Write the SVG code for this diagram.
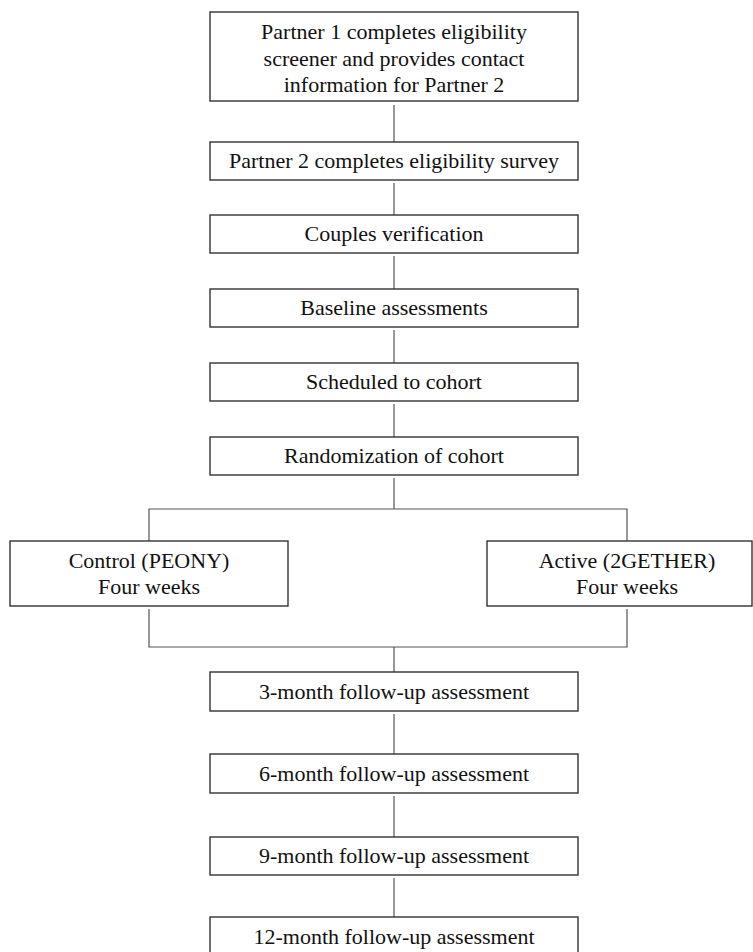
<svg xmlns="http://www.w3.org/2000/svg" width="753" height="952" viewBox="0 0 753 952">
<style>
.box{fill:#fff;stroke:#333;stroke-width:1.4}
.t{font-family:"Liberation Serif","Times New Roman",serif;font-size:22px;fill:#111;text-anchor:middle}
.c{fill:none;stroke:#555;stroke-width:1.2}
</style>
<rect width="753" height="952" fill="#fff"/>
<g id="connectors">
<path class="c" d="M394 105V142"/>
<path class="c" d="M394 183V215"/>
<path class="c" d="M394 256V289"/>
<path class="c" d="M394 330V363"/>
<path class="c" d="M394 404V437"/>
<path class="c" d="M394 478V509M149 541V509H627V541"/>
<path class="c" d="M149 609V647H627V609M394 647V672"/>
<path class="c" d="M394 714V754"/>
<path class="c" d="M394 796V837"/>
<path class="c" d="M394 878V917"/>
</g>
<g id="n1"><rect class="box" x="210" y="12" width="368" height="89"/>
<text class="t" x="394" y="39">Partner 1 completes eligibility</text>
<text class="t" x="394" y="66">screener and provides contact</text>
<text class="t" x="394" y="92">information for Partner 2</text></g>
<g id="n2"><rect class="box" x="210" y="142" width="368" height="38"/><text class="t" x="394" y="168">Partner 2 completes eligibility survey</text></g>
<g id="n3"><rect class="box" x="210" y="215" width="368" height="38"/><text class="t" x="394" y="241">Couples verification</text></g>
<g id="n4"><rect class="box" x="210" y="289" width="368" height="38"/><text class="t" x="394" y="315">Baseline assessments</text></g>
<g id="n5"><rect class="box" x="210" y="363" width="368" height="38"/><text class="t" x="394" y="389">Scheduled to cohort</text></g>
<g id="n6"><rect class="box" x="210" y="437" width="368" height="38"/><text class="t" x="394" y="463">Randomization of cohort</text></g>
<g id="n7"><rect class="box" x="10" y="541" width="278" height="65"/>
<text class="t" x="149" y="568">Control (PEONY)</text>
<text class="t" x="149" y="594">Four weeks</text></g>
<g id="n8"><rect class="box" x="487" y="541" width="265" height="65"/>
<text class="t" x="627" y="568">Active (2GETHER)</text>
<text class="t" x="627" y="594">Four weeks</text></g>
<g id="n9"><rect class="box" x="210" y="672" width="368" height="39"/><text class="t" x="394" y="699">3-month follow-up assessment</text></g>
<g id="n10"><rect class="box" x="210" y="754" width="368" height="39"/><text class="t" x="394" y="781">6-month follow-up assessment</text></g>
<g id="n11"><rect class="box" x="210" y="837" width="368" height="38"/><text class="t" x="394" y="863">9-month follow-up assessment</text></g>
<g id="n12"><rect class="box" x="210" y="917" width="368" height="40"/><text class="t" x="394" y="944">12-month follow-up assessment</text></g>
</svg>
